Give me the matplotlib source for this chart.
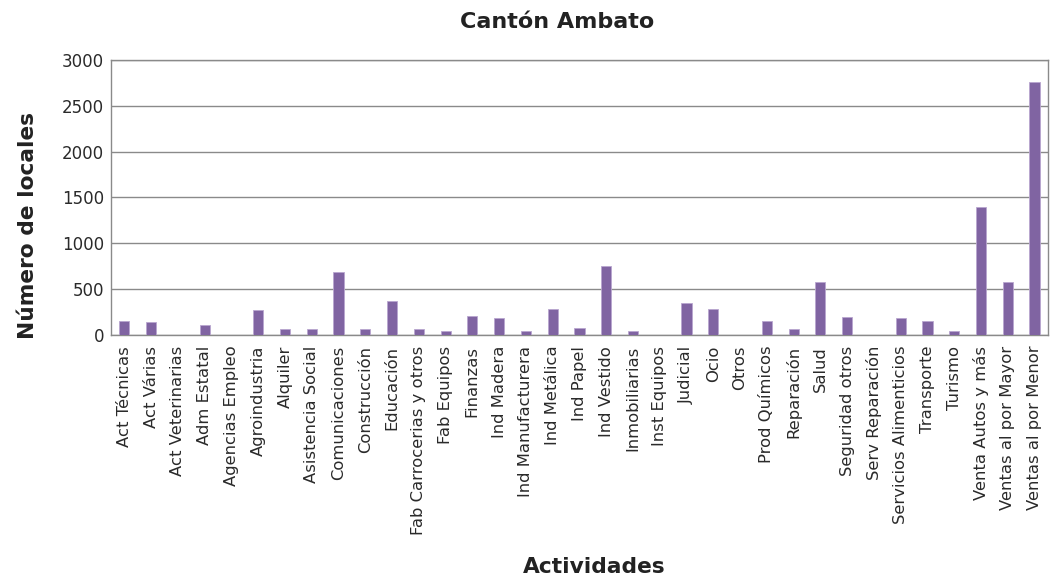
import matplotlib
matplotlib.use("Agg")
import matplotlib.pyplot as plt
import numpy as np

categories = ["Act Técnicas", "Act Várias", "Act Veterinarias", "Adm Estatal", "Agencias Empleo",
              "Agroindustria", "Alquiler", "Asistencia Social", "Comunicaciones", "Construcción",
              "Educación", "Fab Carrocerias y otros", "Fab Equipos", "Finanzas", "Ind Madera",
              "Ind Manufacturera", "Ind Metálica", "Ind Papel", "Ind Vestido", "Inmobiliarias",
              "Inst Equipos", "Judicial", "Ocio", "Otros", "Prod Químicos", "Reparación", "Salud",
              "Seguridad otros", "Serv Reparación", "Servicios Alimenticios", "Transporte", "Turismo",
              "Venta Autos y más", "Ventas al por Mayor", "Ventas al por Menor"]
values = [148, 135, 0, 106, 0,
          273, 66, 66, 681, 66,
          371, 66, 44, 200, 179,
          44, 280, 73, 746, 44,
          0, 350, 277, 0, 150, 59, 575,
          197, 0, 182, 150, 44,
          1394, 575, 2755]
yticks = [0, 500, 1000, 1500, 2000, 2500, 3000]

title = "Cantón Ambato"
xlabel = "Actividades"
ylabel = "Número de locales"

fig = plt.figure(figsize=(10.5, 5.8), dpi=100)
ax = fig.add_axes([0.1057, 0.4229, 0.8923, 0.4737])

x = np.arange(len(categories))
ax.bar(x, values, width=0.38, color="#8064A2", edgecolor="#b9a6cf", linewidth=0.6, zorder=3)

ax.set_xlim(-0.5, len(categories) - 0.5)
ax.set_ylim(0, 3000)
ax.set_yticks(yticks)
ax.set_yticklabels([str(v) for v in yticks], fontsize=12, color="#2a2a2a")
ax.set_xticks(x)
ax.set_xticklabels(categories, rotation=90, fontsize=11.8, color="#2a2a2a")
ax.tick_params(axis="x", length=0, pad=8)
ax.tick_params(axis="y", length=0, pad=5)
ax.yaxis.grid(True, color="#8a8a8a", linewidth=1.0, zorder=0)
for s in ax.spines.values():
    s.set_color("#8a8a8a")
    s.set_linewidth(1.0)

fig.text(0.531, 0.962, title, ha="center", va="center", fontsize=16, fontweight="bold", color="#222222")
fig.text(0.566, 0.022, xlabel, ha="center", va="center", fontsize=15.7, fontweight="bold", color="#222222")
fig.text(0.027, 0.612, ylabel, ha="center", va="center", rotation=90, fontsize=15.7, fontweight="bold", color="#222222")

fig.savefig("out.png", dpi=100)
